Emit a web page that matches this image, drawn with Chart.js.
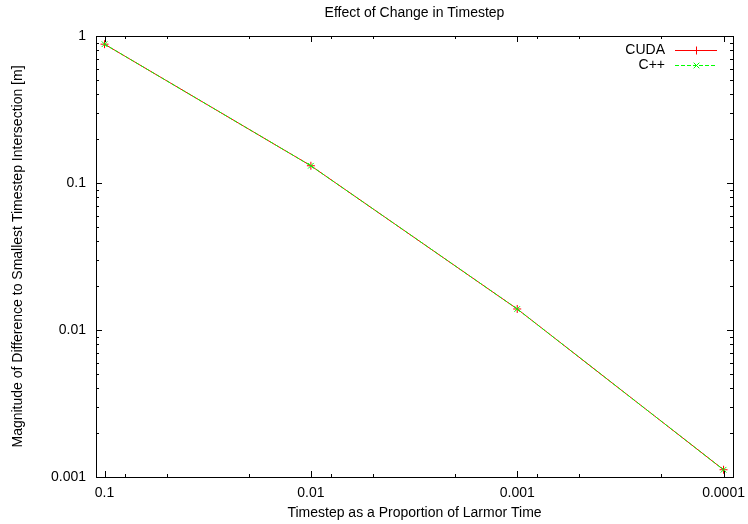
<!DOCTYPE html>
<html>
<head>
<meta charset="utf-8">
<script src="https://cdn.jsdelivr.net/npm/chart.js@4.4.1/dist/chart.umd.min.js"></script>
<style>
  html, body { margin: 0; padding: 0; background: #fff; }
  #wrap { width: 748px; height: 524px; }
</style>
</head>
<body>
<div id="wrap"><canvas id="c" width="748" height="524"></canvas></div>
<script>
// ---- data ----
const timesteps = [0.1, 0.01, 0.001, 0.0001];
const cudaValues = [0.88, 0.131, 0.0139, 0.00112];
const cppValues = [0.88, 0.131, 0.0139, 0.00112];
const seriesNames = ['CUDA', 'C++'];
const xTickValues = [0.1, 0.01, 0.001, 0.0001];
const xTickLabels = ['0.1', '0.01', '0.001', '0.0001'];
const yTickValues = [0.001, 0.01, 0.1, 1];
const yTickLabels = ['0.001', '0.01', '0.1', '1'];
const xMinorFactors = [0.8, 0.5, 0.2];
const yMinorFactors = [2, 3, 4, 5, 6, 7, 8, 9];
const titleText = 'Effect of Change in Timestep';
const xTitle = 'Timestep as a Proportion of Larmor Time';
const yTitle = 'Magnitude of Difference to Smallest Timestep Intersection [m]';

const FONT = "'Liberation Sans', Arial, Helvetica, sans-serif";
Chart.defaults.color = '#000';
Chart.defaults.font.family = FONT;
Chart.defaults.font.size = 14;

const toPts = (xs, ys) => xs.map((x, i) => ({ x: x, y: ys[i] }));

const framePlugin = {
  id: 'framePlugin',
  afterDatasetsDraw(chart) {
    const ctx = chart.ctx;
    const a = chart.chartArea;
    const xs = chart.scales.x, ys = chart.scales.y;
    ctx.save();
    ctx.strokeStyle = '#000';
    ctx.lineWidth = 1;
    const MAJ = 6, MIN = 3;
    ctx.beginPath();
    const ySet = [];
    yTickValues.forEach(v => ySet.push([v, MAJ]));
    yTickValues.forEach(v => yMinorFactors.forEach(f => ySet.push([v * f, MIN])));
    ySet.forEach(([v, len]) => {
      if (v < ys.min || v > ys.max) return;
      const p = Math.round(ys.getPixelForValue(v)) + 0.5;
      ctx.moveTo(a.left, p); ctx.lineTo(a.left + len, p);
      ctx.moveTo(a.right, p); ctx.lineTo(a.right - len, p);
    });
    const xSet = [];
    xTickValues.forEach(v => xSet.push([v, MAJ]));
    xTickValues.forEach(v => xMinorFactors.forEach(f => xSet.push([v * f, MIN])));
    xSet.forEach(([v, len]) => {
      if (v < xs.min || v > xs.max) return;
      const p = Math.round(xs.getPixelForValue(v)) + 0.5;
      ctx.moveTo(p, a.bottom); ctx.lineTo(p, a.bottom - len);
      ctx.moveTo(p, a.top); ctx.lineTo(p, a.top + len);
    });
    ctx.stroke();
    ctx.strokeRect(Math.round(a.left) + 0.5, Math.round(a.top) + 0.5,
                   Math.round(a.right - a.left), Math.round(a.bottom - a.top));
    ctx.fillStyle = '#000';
    ctx.font = '14px ' + FONT;
    ctx.textAlign = 'center';
    ctx.textBaseline = 'middle';
    ctx.fillText(titleText, (a.left + a.right) / 2, 13);
    const rows = [50, 65];
    chart.data.datasets.forEach((ds, i) => {
      const y = rows[i] + 0.5;
      ctx.textAlign = 'right';
      ctx.fillStyle = '#000';
      ctx.fillText(ds.label, 665, y);
      ctx.strokeStyle = ds.borderColor;
      ctx.lineWidth = 1;
      ctx.setLineDash(ds.borderDash || []);
      ctx.beginPath();
      ctx.moveTo(675, y); ctx.lineTo(717, y);
      ctx.stroke();
      ctx.setLineDash([]);
      ctx.strokeStyle = ds.borderColor;
      Chart.helpers.drawPoint(ctx, {
        pointStyle: ds.pointStyle, radius: ds.pointRadius, rotation: 0,
        borderWidth: 1
      }, 696.5, y);
    });
    ctx.restore();
  }
};

new Chart(document.getElementById('c'), {
  type: 'line',
  data: {
    datasets: [
      {
        label: seriesNames[0],
        data: toPts(timesteps, cudaValues),
        borderColor: '#ff0000',
        backgroundColor: '#ff0000',
        borderWidth: 1,
        pointStyle: 'cross',
        pointRadius: 4,
        pointBorderWidth: 1,
        pointBorderColor: '#ff0000',
        fill: false,
        tension: 0,
        order: 1
      },
      {
        label: seriesNames[1],
        data: toPts(timesteps, cppValues),
        borderColor: '#00ff00',
        backgroundColor: '#00ff00',
        borderWidth: 1,
        borderDash: [4, 2],
        pointStyle: 'crossRot',
        pointRadius: 4,
        pointBorderWidth: 1,
        pointBorderColor: '#00ff00',
        fill: false,
        tension: 0,
        order: 0
      }
    ]
  },
  options: {
    responsive: false,
    animation: false,
    devicePixelRatio: 1,
    layout: { padding: { left: 0, right: 15, top: 36, bottom: 0 } },
    plugins: {
      legend: { display: false },
      title: { display: false },
      tooltip: { enabled: false }
    },
    scales: {
      x: {
        type: 'logarithmic',
        reverse: true,
        min: 0.00009,
        max: 0.11,
        grid: { display: false, drawTicks: false },
        border: { display: false },
        afterBuildTicks: s => { s.ticks = xTickValues.map(v => ({ value: v })); },
        afterFit: s => { s.height = 47; s.paddingLeft = 0; s.paddingRight = 0; },
        ticks: {
          padding: 8,
          maxRotation: 0,
          autoSkip: false,
          callback: (v) => { const i = xTickValues.indexOf(v); return i >= 0 ? xTickLabels[i] : ''; }
        },
        title: { display: true, text: xTitle, padding: { top: 0, bottom: 2 }, font: { size: 14 } }
      },
      y: {
        type: 'logarithmic',
        min: 0.001,
        max: 1,
        grid: { display: false, drawTicks: false },
        border: { display: false },
        afterBuildTicks: s => { s.ticks = yTickValues.map(v => ({ value: v })); },
        afterFit: s => { s.width = 96; s.paddingTop = 0; s.paddingBottom = 0; },
        ticks: {
          padding: 10,
          autoSkip: false,
          callback: (v) => { const i = yTickValues.indexOf(v); return i >= 0 ? yTickLabels[i] : ''; }
        },
        title: { display: true, text: yTitle, padding: { top: 10, bottom: 0 }, font: { size: 14 } }
      }
    }
  },
  plugins: [framePlugin]
});
</script>
</body>
</html>
